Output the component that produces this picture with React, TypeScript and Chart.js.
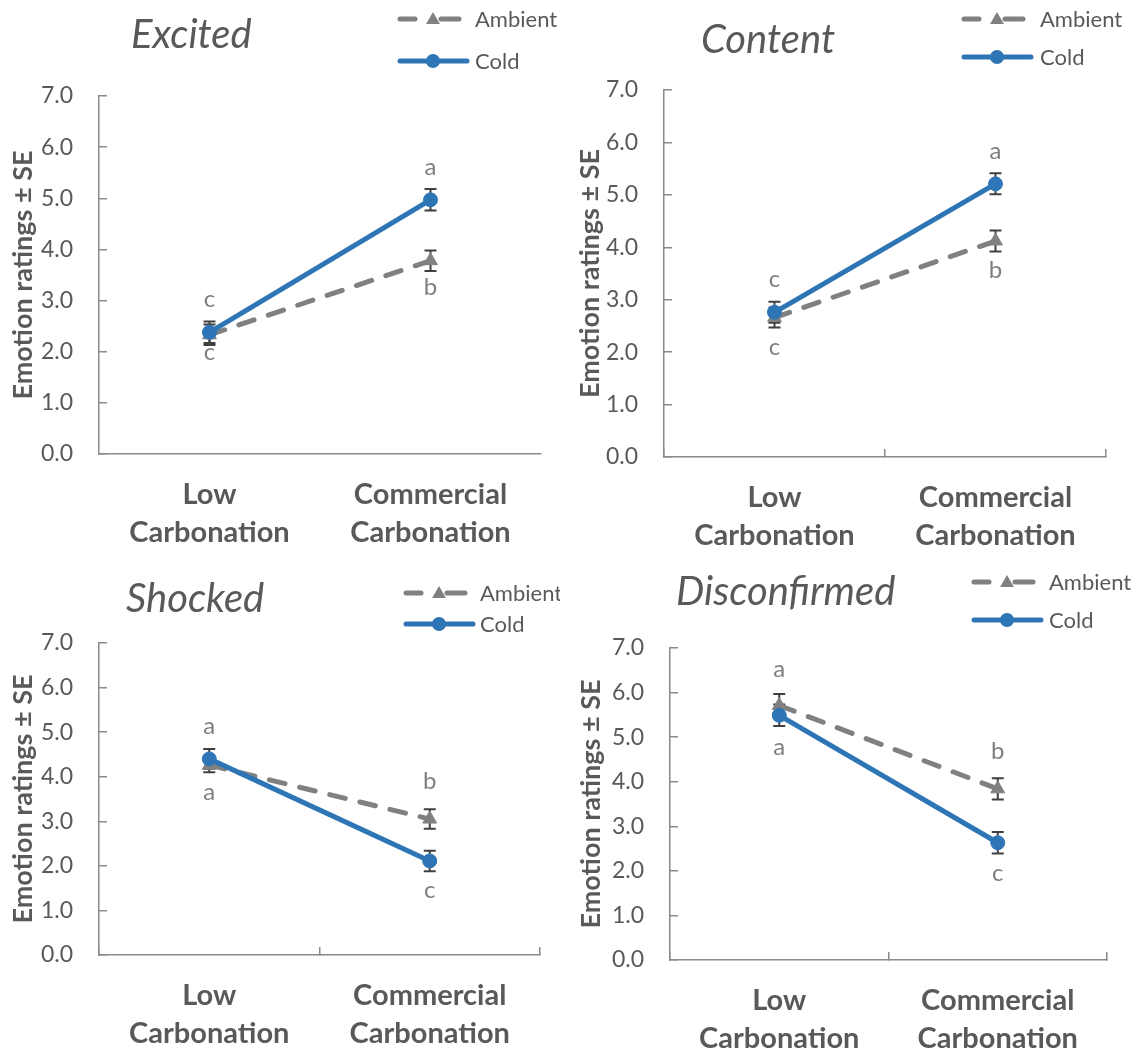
import React, { useEffect, useRef } from 'react';
import { Chart, registerables } from 'chart.js';

Chart.register(...registerables);

// ---------- data ----------
const categories = [['Low', 'Carbonation'], ['Commercial', 'Carbonation']];
const seriesNames = ['Ambient', 'Cold'];
const yAxisTitle = 'Emotion ratings ± SE';
const yMin = 0;
const yMax = 7;
const yStep = 1;

const excitedAmbient = [2.33, 3.78];
const excitedAmbientSE = [0.2, 0.2];
const excitedCold = [2.38, 4.97];
const excitedColdSE = [0.21, 0.21];
const excitedAmbientLetters = ['c', 'b'];
const excitedColdLetters = ['c', 'a'];

const contentAmbient = [2.66, 4.12];
const contentAmbientSE = [0.19, 0.2];
const contentCold = [2.76, 5.21];
const contentColdSE = [0.2, 0.2];
const contentAmbientLetters = ['c', 'b'];
const contentColdLetters = ['c', 'a'];

const shockedAmbient = [4.26, 3.05];
const shockedAmbientSE = [0.16, 0.22];
const shockedCold = [4.4, 2.11];
const shockedColdSE = [0.22, 0.23];
const shockedAmbientLetters = ['a', 'b'];
const shockedColdLetters = ['a', 'c'];

const disconfirmedAmbient = [5.71, 3.84];
const disconfirmedAmbientSE = [0.26, 0.24];
const disconfirmedCold = [5.49, 2.63];
const disconfirmedColdSE = [0.24, 0.24];
const disconfirmedAmbientLetters = ['a', 'b'];
const disconfirmedColdLetters = ['a', 'c'];

// ---------- styles ----------
const FONT = 'Lato';
const TEXT = '#595959';
const LETTER = '#7f7f7f';
const GRAY = '#808080';
const BLUE = '#2E75B6';
const AXIS = '#8a8a8a';
const ERR = '#404040';

type PanelCfg = {
  title: string;
  ambient: number[];
  ambientSE: number[];
  cold: number[];
  coldSE: number[];
  ambientLetters: string[];
  coldLetters: string[];
  ambientSide: number[]; // +1 below, -1 above (scaled offset)
  coldSide: number[];
  canvas: { x: number; y: number; w: number; h: number };
  area: { l: number; t: number; r: number; b: number };
  titlePos: { x: number; y: number };
  legend: { xc: number; yA: number; yC: number; tx: number };
  yTitlePad: number;
  xTicks: boolean;
};

const panels: PanelCfg[] = [
  {
    title: 'Excited',
    ambient: excitedAmbient, ambientSE: excitedAmbientSE,
    cold: excitedCold, coldSE: excitedColdSE,
    ambientLetters: excitedAmbientLetters, coldLetters: excitedColdLetters,
    ambientSide: [0.62, 0.92], coldSide: [-1, -1],
    canvas: { x: 0, y: 0, w: 560, h: 555 },
    area: { l: 99, t: 96, r: 541, b: 454 },
    titlePos: { x: 131, y: 48 },
    legend: { xc: 433, yA: 19, yC: 61, tx: 475 },
    yTitlePad: 7,
    xTicks: false,
  },
  {
    title: 'Content',
    ambient: contentAmbient, ambientSE: contentAmbientSE,
    cold: contentCold, coldSE: contentColdSE,
    ambientLetters: contentAmbientLetters, coldLetters: contentColdLetters,
    ambientSide: [1, 1], coldSide: [-1, -1],
    canvas: { x: 560, y: 0, w: 581, h: 555 },
    area: { l: 664, t: 90, r: 1106, b: 457 },
    titlePos: { x: 701, y: 53 },
    legend: { xc: 997, yA: 19, yC: 57, tx: 1040 },
    yTitlePad: 14,
    xTicks: true,
  },
  {
    title: 'Shocked',
    ambient: shockedAmbient, ambientSE: shockedAmbientSE,
    cold: shockedCold, coldSE: shockedColdSE,
    ambientLetters: shockedAmbientLetters, coldLetters: shockedColdLetters,
    ambientSide: [0.92, -1.15], coldSide: [-1, 1],
    canvas: { x: 0, y: 555, w: 560, h: 502 },
    area: { l: 99, t: 643, r: 540, b: 955 },
    titlePos: { x: 126, y: 612 },
    legend: { xc: 439, yA: 593, yC: 624, tx: 480 },
    yTitlePad: 7,
    xTicks: true,
  },
  {
    title: 'Disconfirmed',
    ambient: disconfirmedAmbient, ambientSE: disconfirmedAmbientSE,
    cold: disconfirmedCold, coldSE: disconfirmedColdSE,
    ambientLetters: disconfirmedAmbientLetters, coldLetters: disconfirmedColdLetters,
    ambientSide: [-1.12, -1.15], coldSide: [1.08, 1.05],
    canvas: { x: 560, y: 555, w: 581, h: 502 },
    area: { l: 670, t: 648, r: 1107, b: 960 },
    titlePos: { x: 676, y: 605 },
    legend: { xc: 1007, yA: 582, yC: 620, tx: 1049 },
    yTitlePad: 15,
    xTicks: true,
  },
];

function drawTriangle(ctx: CanvasRenderingContext2D, x: number, y: number, r: number) {
  ctx.beginPath();
  for (let k = 0; k < 3; k++) {
    const a = (k * 2 * Math.PI) / 3;
    const px = x + Math.sin(a) * r;
    const py = y - Math.cos(a) * r;
    if (k === 0) ctx.moveTo(px, py);
    else ctx.lineTo(px, py);
  }
  ctx.closePath();
  ctx.fill();
}

function Panel({ cfg }: { cfg: PanelCfg }) {
  const ref = useRef<HTMLCanvasElement | null>(null);

  useEffect(() => {
    const canvas = ref.current;
    if (!canvas) return;
    const c = cfg.canvas;
    const a = cfg.area;

    const deco = {
      id: 'deco',
      beforeDatasetsDraw(chart: any) {
        const ctx = chart.ctx;
        const ys = chart.scales.y;
        const ses = [cfg.ambientSE, cfg.coldSE];
        const vals = [cfg.ambient, cfg.cold];
        ctx.save();
        ctx.strokeStyle = ERR;
        ctx.lineWidth = 2;
        for (let d = 0; d < 2; d++) {
          const meta = chart.getDatasetMeta(d);
          meta.data.forEach((pt: any, j: number) => {
            const top = ys.getPixelForValue(vals[d][j] + ses[d][j]);
            const bot = ys.getPixelForValue(vals[d][j] - ses[d][j]);
            const x = pt.x;
            ctx.beginPath();
            ctx.moveTo(x, top);
            ctx.lineTo(x, bot);
            ctx.moveTo(x - 6, top);
            ctx.lineTo(x + 6, top);
            ctx.moveTo(x - 6, bot);
            ctx.lineTo(x + 6, bot);
            ctx.stroke();
          });
        }
        ctx.restore();
      },
      afterDatasetsDraw(chart: any) {
        const ctx = chart.ctx;
        const letters = [cfg.ambientLetters, cfg.coldLetters];
        const sides = [cfg.ambientSide, cfg.coldSide];
        ctx.save();
        ctx.fillStyle = LETTER;
        ctx.font = `24px ${FONT}`;
        ctx.textAlign = 'center';
        ctx.textBaseline = 'alphabetic';
        for (let d = 0; d < 2; d++) {
          const meta = chart.getDatasetMeta(d);
          meta.data.forEach((pt: any, j: number) => {
            const yy = pt.y + sides[d][j] * 31 + 6;
            ctx.fillText(letters[d][j], pt.x, yy);
          });
        }
        ctx.restore();
      },
      afterDraw(chart: any) {
        const ctx = chart.ctx;
        ctx.save();
        // title
        ctx.fillStyle = TEXT;
        ctx.font = `italic 40px ${FONT}`;
        ctx.textAlign = 'left';
        ctx.textBaseline = 'alphabetic';
        ctx.fillText(cfg.title, cfg.titlePos.x - c.x, cfg.titlePos.y - c.y);

        // legend
        const L = cfg.legend;
        const xc = L.xc - c.x;
        const yA = L.yA - c.y;
        const yC = L.yC - c.y;
        ctx.lineWidth = 5;
        ctx.lineCap = 'round';
        ctx.strokeStyle = GRAY;
        ctx.beginPath();
        ctx.moveTo(xc - 33, yA);
        ctx.lineTo(xc - 18, yA);
        ctx.moveTo(xc + 8, yA);
        ctx.lineTo(xc + 26, yA);
        ctx.stroke();
        ctx.fillStyle = GRAY;
        drawTriangle(ctx, xc, yA + 1, 8);

        ctx.strokeStyle = BLUE;
        ctx.beginPath();
        ctx.moveTo(xc - 33, yC);
        ctx.lineTo(xc + 34, yC);
        ctx.stroke();
        ctx.fillStyle = BLUE;
        ctx.beginPath();
        ctx.arc(xc, yC, 7, 0, Math.PI * 2);
        ctx.fill();

        ctx.fillStyle = TEXT;
        ctx.font = `22px ${FONT}`;
        ctx.fillText(seriesNames[0], L.tx - c.x, yA + 8);
        ctx.fillText(seriesNames[1], L.tx - c.x, yC + 8);
        ctx.restore();
      },
    };

    const chart = new Chart(canvas, {
      type: 'line',
      data: {
        labels: categories,
        datasets: [
          {
            label: seriesNames[0],
            data: cfg.ambient,
            borderColor: GRAY,
            backgroundColor: GRAY,
            borderWidth: 5,
            borderDash: [16, 15],
            borderCapStyle: 'round',
            pointStyle: 'triangle',
            pointRadius: 8,
            pointBorderWidth: 1,
            pointBackgroundColor: GRAY,
            pointBorderColor: GRAY,
            tension: 0,
            order: 1,
          },
          {
            label: seriesNames[1],
            data: cfg.cold,
            borderColor: BLUE,
            backgroundColor: BLUE,
            borderWidth: 5,
            pointStyle: 'circle',
            pointRadius: 7,
            pointBorderWidth: 1,
            pointBackgroundColor: BLUE,
            pointBorderColor: BLUE,
            tension: 0,
            order: 0,
          },
        ],
      },
      options: {
        responsive: false,
        animation: false,
        events: [],
        layout: {
          padding: { top: a.t - c.y, right: c.x + c.w - a.r, bottom: 0, left: 0 },
        },
        plugins: {
          legend: { display: false },
          title: { display: false },
          tooltip: { enabled: false },
        },
        scales: {
          x: {
            type: 'category',
            offset: true,
            grid: {
              offset: true,
              drawOnChartArea: false,
              tickLength: -8,
              color: cfg.xTicks ? AXIS : 'rgba(0,0,0,0)',
              lineWidth: 1.5,
            },
            border: { color: AXIS, width: 1.5 },
            ticks: {
              color: TEXT,
              font: { family: FONT, size: 29, weight: 'bold', lineHeight: 1.31 },
              padding: 30,
              maxRotation: 0,
              autoSkip: false,
            },
            afterFit: (s: any) => {
              s.height = c.y + c.h - a.b;
            },
          },
          y: {
            min: yMin,
            max: yMax,
            grid: {
              drawOnChartArea: false,
              tickLength: -8,
              color: AXIS,
              lineWidth: 1.5,
            },
            border: { color: AXIS, width: 1.5 },
            ticks: {
              stepSize: yStep,
              color: TEXT,
              font: { family: FONT, size: 23 },
              padding: 34,
              callback: (v: any) => Number(v).toFixed(1),
            },
            title: {
              display: true,
              text: yAxisTitle,
              color: TEXT,
              font: { family: FONT, size: 27, weight: 'bold' },
              padding: { top: cfg.yTitlePad, bottom: 0 },
            },
            afterFit: (s: any) => {
              s.width = a.l - c.x;
            },
          },
        },
      } as any,
      plugins: [deco],
    });

    return () => chart.destroy();
  }, [cfg]);

  return (
    <canvas
      ref={ref}
      width={cfg.canvas.w}
      height={cfg.canvas.h}
      style={{
        position: 'absolute',
        left: cfg.canvas.x,
        top: cfg.canvas.y,
        width: cfg.canvas.w,
        height: cfg.canvas.h,
        display: 'block',
      }}
    />
  );
}

export default function App() {
  return (
    <div style={{ position: 'absolute', left: 0, top: 0, width: 1141, height: 1057, background: '#fff' }}>
      {panels.map((p) => (
        <Panel key={p.title} cfg={p} />
      ))}
    </div>
  );
}
